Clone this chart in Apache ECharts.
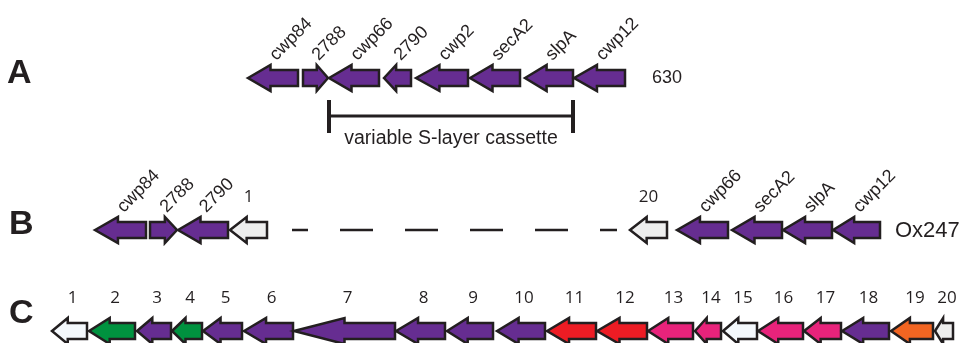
<!DOCTYPE html>
<html>
<head>
<meta charset="utf-8">
<script src="https://cdn.jsdelivr.net/npm/echarts@6/dist/echarts.min.js"></script>
<style>
  html, body { margin: 0; padding: 0; background: #fff; }
  #chart { width: 961px; height: 343px; }
</style>
</head>
<body>
<div id="chart"></div>
<script>
// Row A: strain 630 (gene start / end in map units, strand -1 = leftward)
const genesA = ['cwp84', '2788', 'cwp66', '2790', 'cwp2', 'secA2', 'slpA', 'cwp12']
const startsA = [248, 303, 329, 384, 416, 470, 525, 574]
const endsA = [298, 328, 379, 411, 468, 520, 573, 625]
const strandA = [-1, 1, -1, -1, -1, -1, -1, -1]
const familyA = ['slcf', 'slcf', 'slcf', 'slcf', 'slcf', 'slcf', 'slcf', 'slcf']
const cassetteA = ['cwp66', 'slpA']

// Row B: strain Ox247, with an inserted region shown as a gap
const genesB = ['cwp84', '2788', '2790', '1', '20', 'cwp66', 'secA2', 'slpA', 'cwp12']
const startsB = [95, 150, 178, 230, 630, 677, 732, 783, 833]
const endsB = [146, 177, 228, 267, 667, 728, 782, 832, 880]
const strandB = [-1, 1, -1, -1, -1, -1, -1, -1, -1]
const familyB = ['slcf', 'slcf', 'slcf', 'ins', 'ins', 'slcf', 'slcf', 'slcf', 'slcf']
const gapB = [292, 617]

// Row C: the 20 genes of the insertion
const genesC = ['1', '2', '3', '4', '5', '6', '7', '8', '9', '10',
  '11', '12', '13', '14', '15', '16', '17', '18', '19', '20']
const startsC = [52, 89, 137, 172, 203, 244, 294, 396, 447, 497,
  547, 597, 648, 695, 723, 758, 804, 842, 891, 935]
const endsC = [87, 135, 171, 202, 242, 293, 395, 445, 493, 545,
  596, 647, 693, 721, 757, 803, 841, 889, 933, 953]
const strandC = [-1, -1, -1, -1, -1, -1, -1, -1, -1, -1,
  -1, -1, -1, -1, -1, -1, -1, -1, -1, -1]
const familyC = ['none', 'green', 'slcf', 'green', 'slcf', 'slcf', 'slcf', 'slcf', 'slcf', 'slcf',
  'red', 'red', 'pink', 'pink', 'none', 'pink', 'pink', 'slcf', 'orange', 'ins']

const colors = {
  slcf: '#662d91',
  green: '#00923f',
  red: '#ed1c24',
  pink: '#e8237b',
  orange: '#f26522',
  none: '#f4f8fc',
  ins: '#eeeeee',
}
const ink = '#231f20'
const rowY = { A: 78, B: 230, C: 331 }
const BODY = 8
const HEAD = 13
const sans = '"Liberation Sans", Arial, sans-serif'
const numFont = '"Open Sans", "Liberation Sans", sans-serif'

function arrowPoints(x0, x1, yc, strand) {
  const len = x1 - x0
  const head = len > 80 ? len * 0.5 : Math.min(len * 0.45, 25)
  if (strand < 0) {
    const hx = x0 + head
    return [[x0, yc], [hx, yc - HEAD], [hx, yc - BODY], [x1, yc - BODY],
      [x1, yc + BODY], [hx, yc + BODY], [hx, yc + HEAD]]
  }
  const hx = x1 - head
  return [[x1, yc], [hx, yc + HEAD], [hx, yc + BODY], [x0, yc + BODY],
    [x0, yc - BODY], [hx, yc - BODY], [hx, yc - HEAD]]
}

function geneSeries(row, names, starts, ends, strands, families, labelStyle) {
  return {
    type: 'custom',
    coordinateSystem: 'cartesian2d',
    data: starts.map((s, i) => [s, ends[i], rowY[row]]),
    encode: { x: [0, 1], y: 2 },
    renderItem: (params, api) => {
      const i = params.dataIndex
      const p0 = api.coord([api.value(0), api.value(2)])
      const p1 = api.coord([api.value(1), api.value(2)])
      const cx = (p0[0] + p1[0]) / 2
      const children = [{
        type: 'polygon',
        shape: { points: arrowPoints(p0[0], p1[0], p0[1], strands[i]) },
        style: { fill: colors[families[i]], stroke: ink, lineWidth: 2.5, lineJoin: 'miter' },
      }]
      const rotated = labelStyle === 'rotated' && families[i] !== 'ins'
      if (rotated) {
        children.push({
          type: 'text',
          x: cx + 6,
          y: p0[1] - 14,
          rotation: Math.PI / 4,
          style: { text: names[i], align: 'left', verticalAlign: 'bottom', fontSize: 18, fontFamily: sans, fill: ink },
        })
      } else {
        children.push({
          type: 'text',
          x: cx + (labelStyle === 'numbers' ? 3 : 0),
          y: p0[1] - 33,
          style: { text: names[i], align: 'center', verticalAlign: 'middle', fontSize: 17, fontFamily: numFont, fill: ink },
        })
      }
      return { type: 'group', children }
    },
    silent: true,
    z: 2,
  }
}

const cassetteStart = startsA[genesA.indexOf(cassetteA[0])]
const cassetteEnd = endsA[genesA.indexOf(cassetteA[1])]

const chart = echarts.init(document.getElementById('chart'), null, { renderer: 'canvas' })

chart.setOption({
  animation: false,
  backgroundColor: '#fff',
  grid: { left: 0, right: 0, top: 0, bottom: 0 },
  xAxis: { type: 'value', min: 0, max: 961, show: false },
  yAxis: { type: 'value', min: 0, max: 343, inverse: true, show: false },
  series: [
    geneSeries('A', genesA, startsA, endsA, strandA, familyA, 'rotated'),
    geneSeries('B', genesB, startsB, endsB, strandB, familyB, 'rotated'),
    geneSeries('C', genesC, startsC, endsC, strandC, familyC, 'numbers'),
    {
      // variable S-layer cassette bracket
      type: 'custom',
      data: [[cassetteStart, cassetteEnd, rowY.A]],
      encode: { x: [0, 1], y: 2 },
      renderItem: (params, api) => {
        const p0 = api.coord([api.value(0), api.value(2)])
        const p1 = api.coord([api.value(1), api.value(2)])
        const y = p0[1] + 38
        return {
          type: 'group',
          children: [
            { type: 'line', shape: { x1: p0[0], y1: y, x2: p1[0], y2: y }, style: { stroke: ink, lineWidth: 3 } },
            { type: 'line', shape: { x1: p0[0], y1: y - 16, x2: p0[0], y2: y + 17 }, style: { stroke: ink, lineWidth: 4 } },
            { type: 'line', shape: { x1: p1[0], y1: y - 16, x2: p1[0], y2: y + 17 }, style: { stroke: ink, lineWidth: 4 } },
            {
              type: 'text', x: (p0[0] + p1[0]) / 2, y: y + 23,
              style: { text: 'variable S-layer cassette', align: 'center', verticalAlign: 'middle', fontSize: 19.5, fontFamily: sans, fill: ink },
            },
          ],
        }
      },
      silent: true,
    },
    {
      // gap standing for the inserted region in Ox247
      type: 'custom',
      data: [[gapB[0], gapB[1], rowY.B]],
      encode: { x: [0, 1], y: 2 },
      renderItem: (params, api) => {
        const p0 = api.coord([api.value(0), api.value(2)])
        const p1 = api.coord([api.value(1), api.value(2)])
        return {
          type: 'line',
          shape: { x1: p0[0], y1: p0[1], x2: p1[0], y2: p1[1] },
          style: { stroke: ink, lineWidth: 2.5, lineDash: [33, 32], lineDashOffset: 17 },
        }
      },
      silent: true,
    },
  ],
  graphic: [
    { type: 'text', x: 7, y: 74, style: { text: 'A', fontSize: 34, fontWeight: 'bold', fontFamily: sans, fill: ink, verticalAlign: 'middle' } },
    { type: 'text', x: 9, y: 225, style: { text: 'B', fontSize: 34, fontWeight: 'bold', fontFamily: sans, fill: ink, verticalAlign: 'middle' } },
    { type: 'text', x: 9, y: 314, style: { text: 'C', fontSize: 34, fontWeight: 'bold', fontFamily: sans, fill: ink, verticalAlign: 'middle' } },
    { type: 'text', x: 652, y: 78, style: { text: '630', fontSize: 18, fontFamily: sans, fill: ink, verticalAlign: 'middle' } },
    { type: 'text', x: 895, y: 231, style: { text: 'Ox247', fontSize: 22, fontFamily: sans, fill: ink, verticalAlign: 'middle' } },
  ],
})
</script>
</body>
</html>
